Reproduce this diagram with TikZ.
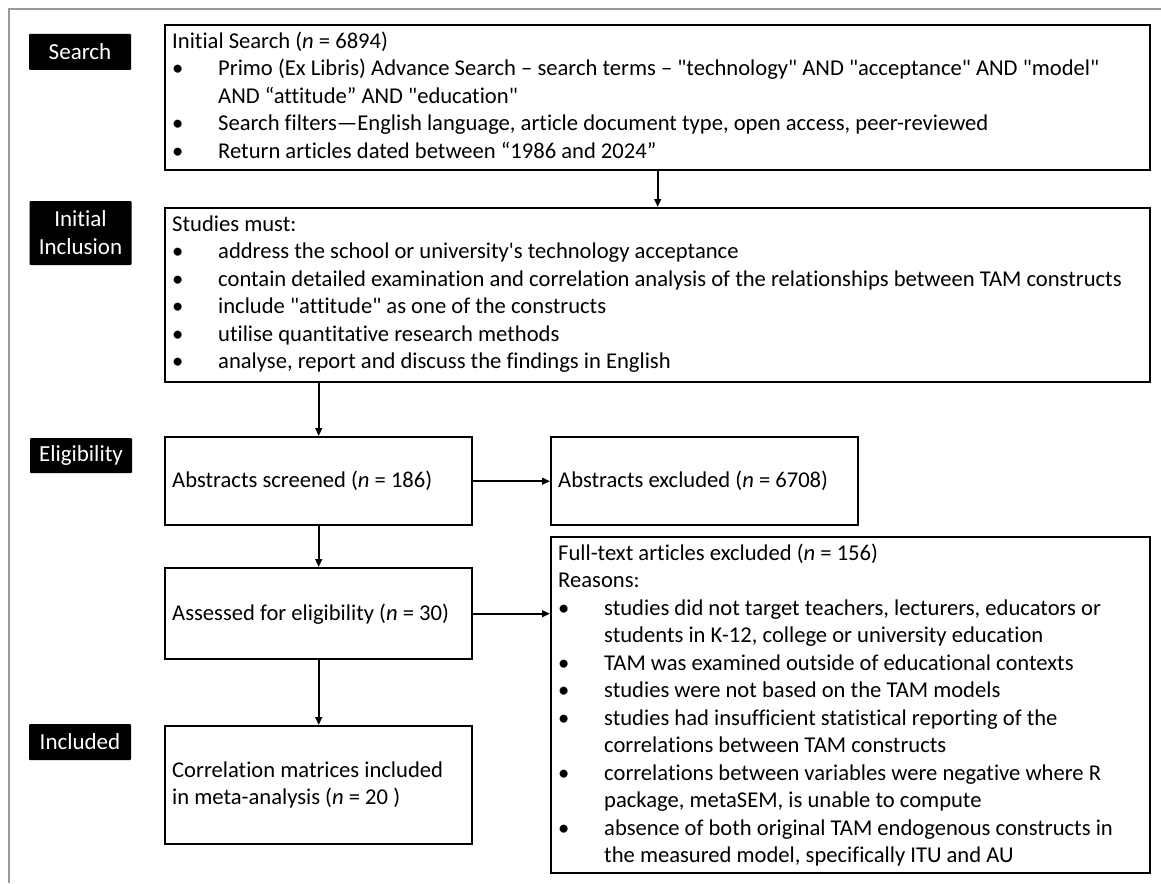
\documentclass[tikz,border=0pt]{standalone}
\usepackage{fontspec}
\newfontfamily\carlito{Carlito}[Ligatures=CommonOff]
\usetikzlibrary{arrows.meta}
\newcommand{\bitem}{\par\hangindent=23pt\noindent\hbox to 23pt{\textbullet\hfil}}

\begin{document}
\begin{tikzpicture}[
        x=0.5pt, y=-0.5pt,
        box/.style={
            rectangle,
            draw,
            line width=1.2pt,
            anchor=north west,
            inner xsep=3.5pt,
            inner ysep=2pt,
            align=flush left,
            font=\carlito\fontsize{11.3}{13.75}\selectfont
        },
        stage/.style={
            rectangle,
            fill=black,
            text=white,
            rounded corners=0.5pt,
            minimum width=51pt,
            align=center,
            font=\carlito\fontsize{11.5}{14}\selectfont
        },
        >={Triangle[length=4pt,width=3.4pt]}
    ]
    \useasboundingbox (0,0) rectangle (1161,883);
    \draw[gray!80, line width=0.6pt] (9,883) -- (9,9) -- (1161,9);

    % Stage labels
    \node[stage, minimum height=18pt] (L1) at (80,52) {Search};
    \node[stage, minimum height=32pt] (L2) at (80.5,233) {Initial\\Inclusion};
    \node[stage, minimum height=17.5pt] (L3) at (81,455.5) {Eligibility};
    \node[stage, minimum height=18pt] (L4) at (80,742) {Included};

    % Main boxes
    \node[box] (S) at (164,24) {\parbox[c][68.5pt][t]{485.5pt}{\raggedright\strut
        Initial Search (\textit{n} = 6894)
        \bitem Primo (Ex Libris) Advance Search – search terms – "technology" AND "acceptance" AND "model"\newline
        AND “attitude” AND "education"
        \bitem Search filters—English language, article document type, open access, peer-reviewed
        \bitem Return articles dated between “1986 and 2024”}};
    \node[box] (I) at (164,207) {\parbox[c][83pt][t]{485.5pt}{\raggedright\strut
        Studies must:
        \bitem address the school or university's technology acceptance
        \bitem contain detailed examination and correlation analysis of the relationships between TAM constructs
        \bitem include "attitude" as one of the constructs
        \bitem utilise quantitative research methods
        \bitem analyse, report and discuss the findings in English}};
    \node[box, text width=146.5pt, minimum height=44pt] (A) at (164,436) {Abstracts screened (\textit{n} = 186)};
    \node[box, text width=146.5pt, minimum height=44pt] (AX) at (550,436) {Abstracts excluded (\textit{n} = 6708)};
    \node[box, text width=146.5pt, minimum height=45.5pt] (E) at (164,567) {Assessed for eligibility (\textit{n} = 30)};
    \node[box] (F) at (550,536) {\parbox[c][164pt][t]{292.5pt}{\raggedright\strut
        Full-text articles excluded (\textit{n} = 156)\par
        Reasons:
        \bitem studies did not target teachers, lecturers, educators or\newline
        students in K-12, college or university education
        \bitem TAM was examined outside of educational contexts
        \bitem studies were not based on the TAM models
        \bitem studies had insufficient statistical reporting of the\newline
        correlations between TAM constructs
        \bitem correlations between variables were negative where R\newline
        package, metaSEM, is unable to compute
        \bitem absence of both original TAM endogenous constructs in\newline
        the measured model, specifically ITU and AU}};
    \node[box, text width=146.5pt, minimum height=59pt] (C) at (164,725) {Correlation matrices included\\in meta-analysis (\textit{n} = 20 )};

    % Connections
    \draw[->, line width=0.9pt] (S.south) -- (I.north);
    \draw[->, line width=0.9pt] (A.north |- I.south) -- (A.north);
    \draw[->, line width=0.9pt] (A.east) -- (AX.west);
    \draw[->, line width=0.9pt] (A.south) -- (E.north);
    \draw[->, line width=0.9pt] (E.east) -- (E.east -| F.west);
    \draw[->, line width=0.9pt] (E.south) -- (C.north);

\end{tikzpicture}
\end{document}
